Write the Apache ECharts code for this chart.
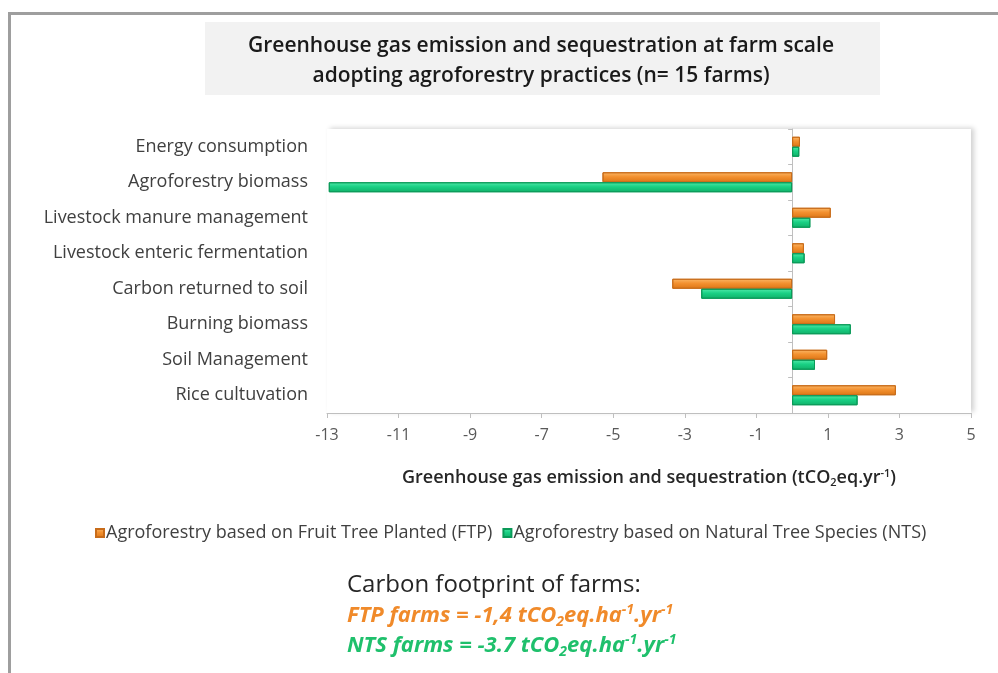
<!DOCTYPE html>
<html>
<head>
<meta charset="utf-8">
<script src="https://cdn.jsdelivr.net/npm/echarts@6/dist/echarts.min.js"></script>
<style>
  html, body { margin: 0; padding: 0; background: #fff; }
  #chart { width: 998px; height: 673px; }
</style>
</head>
<body>
<div id="chart"></div>
<script>
// categories (top to bottom)
const categories = [
  'Energy consumption',
  'Agroforestry biomass',
  'Livestock manure management',
  'Livestock enteric fermentation',
  'Carbon returned to soil',
  'Burning biomass',
  'Soil Management',
  'Rice cultuvation'
]
// tCO2eq.yr-1
const ftpValues = [0.22, -5.3, 1.08, 0.33, -3.35, 1.2, 0.98, 2.9]
const ntsValues = [0.2, -12.95, 0.51, 0.35, -2.54, 1.64, 0.64, 1.83]
const seriesNames = [
  'Agroforestry based on Fruit Tree Planted (FTP)',
  'Agroforestry based on Natural Tree Species (NTS)'
]
const xMin = -13
const xMax = 5
const xStep = 2

const FONT = '"Open Sans", "Noto Sans", sans-serif'

// bevelled bar fill
const barFill = (light, mid, dark) => new echarts.graphic.LinearGradient(0, 0, 0, 1, [
  { offset: 0, color: light },
  { offset: 0.45, color: mid },
  { offset: 1, color: dark }
])

// rich text styles for the footnote lines
const noteRich = (c) => ({
  t: { font: 'italic bold 22px ' + FONT, fill: c },
  s: { font: 'italic bold 14px ' + FONT, fill: c, verticalAlign: 'bottom', padding: [12, 0, 0, 0] },
  p: { font: 'italic bold 14px ' + FONT, fill: c, verticalAlign: 'top', padding: [0, 0, 12, 0] }
})

const chart = echarts.init(document.getElementById('chart'))

const option = {
  backgroundColor: '#fff',
  textStyle: { fontFamily: FONT },
  grid: {
    left: 327,
    right: 27,
    top: 129,
    bottom: 260,
    show: true,
    borderWidth: 0,
    backgroundColor: '#fff',
    shadowColor: 'rgba(0,0,0,0.18)',
    shadowBlur: 5,
    shadowOffsetX: 3,
    shadowOffsetY: -1
  },
  legend: {
    left: 90,
    top: 519,
    itemWidth: 8,
    itemHeight: 8,
    itemGap: 10,
    icon: 'rect',
    textStyle: { fontSize: 18, color: '#404040', fontFamily: FONT, padding: [0, 0, 0, -3] },
    data: seriesNames
  },
  xAxis: {
    type: 'value',
    min: xMin,
    max: xMax,
    interval: xStep,
    splitLine: { show: false },
    axisLine: { show: true, onZero: false, lineStyle: { color: '#bfbfbf', width: 1 } },
    axisTick: { show: true, length: 5, lineStyle: { color: '#bfbfbf' } },
    axisLabel: { fontSize: 16, color: '#595959', margin: 14 },
    name: 'Greenhouse gas emission and sequestration (tCO{sub|2}eq.yr{sup|-1})',
    nameLocation: 'middle',
    nameGap: 55,
    nameTextStyle: {
      fontSize: 18,
      fontWeight: 600,
      color: '#262626',
      rich: {
        sub: { fontSize: 11, fontWeight: 600, color: '#262626', verticalAlign: 'bottom', padding: [9, 0, 0, 0] },
        sup: { fontSize: 11, fontWeight: 600, color: '#262626', verticalAlign: 'top', padding: [0, 0, 9, 0] }
      }
    }
  },
  yAxis: [
    {
      type: 'category',
      data: categories,
      inverse: true,
      axisLine: { show: false, onZero: false },
      axisTick: { show: false },
      axisLabel: { fontSize: 18, color: '#404040', margin: 19, padding: [3, 0, 0, 0] }
    },
    {
      type: 'category',
      data: categories,
      inverse: true,
      position: 'left',
      axisLine: { show: true, onZero: true, lineStyle: { color: '#bfbfbf' } },
      axisTick: { show: true, length: 4, lineStyle: { color: '#bfbfbf' } },
      axisLabel: { show: false }
    }
  ],
  series: [
    {
      name: seriesNames[0],
      type: 'bar',
      data: ftpValues,
      barWidth: 10,
      barGap: '0%',
      itemStyle: {
        color: barFill('#fbb868', '#f39130', '#dc7616'),
        borderColor: '#c86c1a',
        borderWidth: 1
      }
    },
    {
      name: seriesNames[1],
      type: 'bar',
      data: ntsValues,
      barWidth: 10,
      barGap: '0%',
      itemStyle: {
        color: barFill('#52eaaa', '#19d084', '#10b068'),
        borderColor: '#0a9a58',
        borderWidth: 1
      }
    }
  ],
  graphic: [
    // outer frame
    { type: 'line', shape: { x1: 8, y1: 13.5, x2: 998, y2: 13.5 }, style: { stroke: '#9e9e9e', lineWidth: 3 } },
    { type: 'line', shape: { x1: 9.5, y1: 12, x2: 9.5, y2: 673 }, style: { stroke: '#9e9e9e', lineWidth: 3 } },
    // title box
    { type: 'rect', shape: { x: 205, y: 22, width: 675, height: 73 }, style: { fill: '#f2f2f2' } },
    {
      type: 'text',
      x: 541, y: 61,
      style: {
        text: 'Greenhouse gas emission and sequestration at farm scale\nadopting agroforestry practices (n= 15 farms)',
        font: '600 21px ' + FONT,
        fill: '#1a1a1a',
        align: 'center',
        verticalAlign: 'middle',
        lineHeight: 30
      }
    },
    // carbon footprint note
    {
      type: 'text',
      x: 347, y: 573,
      style: {
        text: 'Carbon footprint of farms:',
        font: '24px ' + FONT,
        fill: '#262626'
      }
    },
    {
      type: 'text',
      x: 347, y: 603,
      style: {
        text: '{t|FTP farms = -1,4 tCO}{s|2}{t|eq.ha}{p|-1}{t|.yr}{p|-1}',
        rich: noteRich('#f08a2a')
      }
    },
    {
      type: 'text',
      x: 347, y: 633,
      style: {
        text: '{t|NTS farms = -3.7 tCO}{s|2}{t|eq.ha}{p|-1}{t|.yr}{p|-1}',
        rich: noteRich('#1fc06c')
      }
    }
  ]
}

chart.setOption(option)
</script>
</body>
</html>
